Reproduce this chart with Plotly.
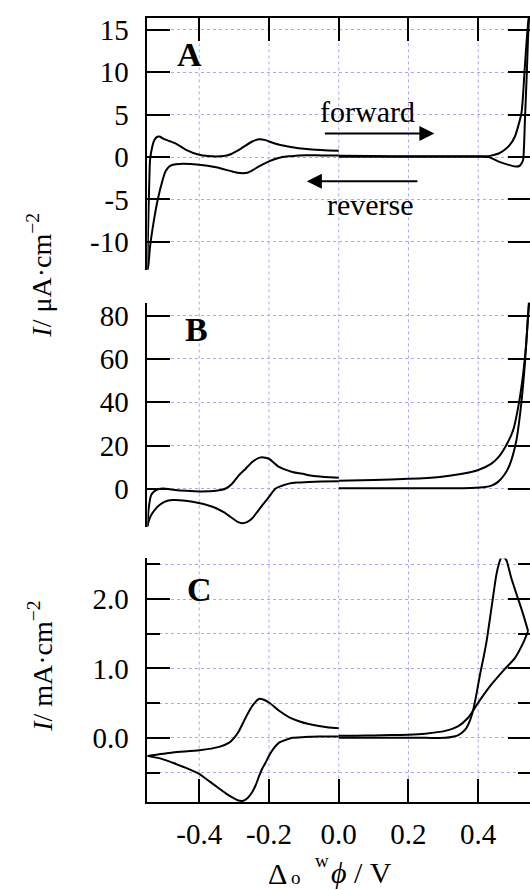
import plotly.graph_objects as go

# ---------------- data ----------------
X_TICKS = [-0.4, -0.2, 0.0, 0.2, 0.4]
X_TICKTEXT = ["-0.4", "-0.2", "0.0", "0.2", "0.4"]

A_TICKS = [-10, -5, 0, 5, 10, 15]
A_TICKTEXT = ["-10", "-5", "0", "5", "10", "15"]
B_TICKS = [0, 20, 40, 60, 80]
B_TICKTEXT = ["0", "20", "40", "60", "80"]
C_TICKS = [0.0, 1.0, 2.0]
C_TICKTEXT = ["0.0", "1.0", "2.0"]

# Panel A (µA cm-2)
A_left_up_V = [-0.549, -0.547, -0.544, -0.541, -0.535, -0.529, -0.52, -0.512, -0.505, -0.486, -0.467,
               -0.438, -0.4, -0.375, -0.352, -0.33, -0.314, -0.286, -0.248, -0.229, -0.21, -0.2,
               -0.17, -0.133, -0.1, -0.067, -0.03, 0.0]
A_left_up_I = [-13.3, -9.0, -4.0, -0.3, 1.2, 2.0, 2.4, 2.4, 2.2, 1.9, 1.6,
               0.86, 0.27, 0.12, 0.08, 0.12, 0.27, 0.86, 1.84, 2.1, 2.0, 1.84,
               1.45, 1.17, 0.98, 0.86, 0.78, 0.74]
A_left_lo_V = [0.0, -0.05, -0.114, -0.14, -0.162, -0.18, -0.2, -0.215, -0.229, -0.245, -0.262,
               -0.276, -0.29, -0.305, -0.352, -0.4, -0.457, -0.475, -0.486, -0.497, -0.505,
               -0.519, -0.531, -0.541, -0.546, -0.549]
A_left_lo_I = [0.2, 0.2, 0.2, 0.1, 0.0, -0.2, -0.5, -0.8, -1.1, -1.5, -1.85,
               -1.9, -1.85, -1.7, -1.2, -0.9, -0.8, -0.9, -1.1, -1.7, -2.7,
               -5.0, -7.7, -10.5, -12.8, -13.3]
A_right_fwd_V = [0.0, 0.1, 0.2, 0.3, 0.4, 0.43, 0.457, 0.49, 0.506, 0.518, 0.525, 0.529,
                 0.534, 0.539, 0.543, 0.547]
A_right_fwd_I = [0.05, 0.05, 0.05, 0.05, 0.05, 0.0, -0.5, -0.95, -1.1, -1.05, -0.7, -0.3,
                 4.4, 9.5, 14.2, 17.5]
A_right_rev_V = [0.545, 0.541, 0.533, 0.524, 0.505, 0.49, 0.476, 0.46, 0.44, 0.429, 0.4,
                 0.3, 0.2, 0.1, 0.0]
A_right_rev_I = [16.5, 14.9, 10.2, 5.2, 2.4, 1.4, 0.86, 0.45, 0.2, 0.1, 0.1,
                 0.1, 0.1, 0.12, 0.15]

# Panel B (µA cm-2)
B_left_up_V = [-0.549, -0.545, -0.538, -0.524, -0.505, -0.47, -0.438, -0.4, -0.352, -0.324,
               -0.305, -0.286, -0.267, -0.248, -0.229, -0.215, -0.2, -0.171, -0.133, -0.1,
               -0.076, -0.04, 0.0]
B_left_up_I = [-17.5, -9.0, -2.9, -0.6, 0.15, -0.5, -0.9, -1.2, -0.9, 0.15,
               2.5, 6.3, 9.3, 12.4, 14.3, 14.5, 13.9, 10.1, 7.8, 6.8,
               6.0, 5.5, 5.1]
B_left_lo_V = [0.0, -0.05, -0.086, -0.12, -0.143, -0.165, -0.181, -0.2, -0.219, -0.233,
               -0.248, -0.262, -0.276, -0.29, -0.305, -0.33, -0.362, -0.419, -0.476, -0.5,
               -0.514, -0.528, -0.538, -0.545, -0.549]
B_left_lo_I = [3.5, 3.4, 3.2, 2.9, 2.4, 1.3, 0.15, -3.7, -7.5, -10.5,
               -13.6, -15.3, -15.9, -15.3, -13.6, -10.8, -8.3, -6.0, -5.2, -6.0,
               -7.5, -9.8, -12.1, -15.0, -17.5]
B_right_a_V = [0.0, 0.1, 0.2, 0.29, 0.35, 0.4, 0.437, 0.46, 0.48, 0.5, 0.515, 0.528, 0.537,
               0.543, 0.546]
B_right_a_I = [3.7, 4.1, 4.6, 5.5, 6.8, 8.7, 11.5, 15.0, 20.0, 27.0, 38.0, 52.0, 66.0,
               80.0, 88.0]
B_right_b_V = [0.0, 0.1, 0.2, 0.3, 0.38, 0.42, 0.44, 0.457, 0.475, 0.49, 0.509, 0.523, 0.534,
               0.543, 0.547]
B_right_b_I = [0.3, 0.3, 0.3, 0.3, 0.4, 0.8, 1.6, 3.2, 6.5, 11.0, 22.0, 38.6, 58.0,
               80.0, 88.0]

# Panel C (mA cm-2)
C_left_up_V = [-0.549, -0.476, -0.4, -0.343, -0.314, -0.3, -0.286, -0.267, -0.248, -0.229,
               -0.215, -0.2, -0.171, -0.143, -0.114, -0.086, -0.057, -0.029, 0.0]
C_left_up_I = [-0.26, -0.21, -0.18, -0.13, -0.07, 0.0, 0.1, 0.29, 0.46, 0.56,
               0.55, 0.51, 0.39, 0.3, 0.24, 0.2, 0.17, 0.15, 0.14]
C_left_lo_V = [0.0, -0.04, -0.076, -0.105, -0.133, -0.152, -0.171, -0.186, -0.2, -0.21, -0.22,
               -0.229, -0.238, -0.248, -0.262, -0.276, -0.29, -0.305, -0.324, -0.343, -0.381,
               -0.4, -0.44, -0.476, -0.51, -0.549]
C_left_lo_I = [0.02, 0.02, 0.015, 0.01, 0.0, -0.03, -0.07, -0.15, -0.26, -0.36, -0.45,
               -0.56, -0.68, -0.78, -0.87, -0.91, -0.9, -0.86, -0.8, -0.73, -0.59,
               -0.52, -0.43, -0.36, -0.3, -0.26]
C_right_fwd_V = [0.0, 0.15, 0.25, 0.305, 0.33, 0.343, 0.355, 0.367, 0.377, 0.385, 0.395, 0.405,
                 0.415, 0.424, 0.438, 0.452, 0.46, 0.467, 0.474, 0.481, 0.495, 0.514, 0.529, 0.543]
C_right_fwd_I = [0.0, 0.0, 0.0, 0.0, 0.02, 0.04, 0.08, 0.15, 0.26, 0.39, 0.63, 0.91,
                 1.15, 1.39, 1.87, 2.35, 2.52, 2.61, 2.6, 2.56, 2.3, 2.01, 1.78, 1.54]
C_right_rev_V = [0.543, 0.529, 0.505, 0.476, 0.438, 0.41, 0.395, 0.385, 0.371, 0.343, 0.305,
                 0.248, 0.2, 0.15, 0.1, 0.05, 0.0]
C_right_rev_I = [1.54, 1.37, 1.15, 0.99, 0.77, 0.58, 0.47, 0.39, 0.29, 0.17, 0.1,
                 0.06, 0.045, 0.04, 0.035, 0.03, 0.03]

# ---------------- layout geometry (pixels of the 530x890 page) ----------------
# the figure is 3 px wider than the window so the right frame line falls just outside,
# as in the reference (only the inward right-hand ticks are visible)
W, H = 533, 890
def px(x):
    return x / W
def py(y):
    return 1 - y / H

X_RANGE = [-0.5486, 0.5514]
XDOM = [px(148), 1.0]
A_DOM = [py(267), py(14)]
B_DOM = [py(525), py(300)]
C_DOM = [py(802), py(557)]

FONT = "Liberation Serif"
TICKFONT = dict(family=FONT, size=29, color="black")
GRID = "#a6a6ff"

fig = go.Figure()
line = dict(color="black", width=2, shape="spline", smoothing=0.6)
segs = [
    (A_left_up_V, A_left_up_I, "x", "y"), (A_left_lo_V, A_left_lo_I, "x", "y"),
    (A_right_fwd_V, A_right_fwd_I, "x", "y"), (A_right_rev_V, A_right_rev_I, "x", "y"),
    (B_left_up_V, B_left_up_I, "x2", "y2"), (B_left_lo_V, B_left_lo_I, "x2", "y2"),
    (B_right_a_V, B_right_a_I, "x2", "y2"), (B_right_b_V, B_right_b_I, "x2", "y2"),
    (C_left_up_V, C_left_up_I, "x3", "y3"), (C_left_lo_V, C_left_lo_I, "x3", "y3"),
    (C_right_fwd_V, C_right_fwd_I, "x3", "y3"), (C_right_rev_V, C_right_rev_I, "x3", "y3"),
]
for xs, ys, xa, ya in segs:
    fig.add_trace(go.Scatter(x=xs, y=ys, mode="lines", line=line, xaxis=xa, yaxis=ya,
                             showlegend=False, hoverinfo="skip"))

common_y = dict(showline=True, linewidth=2, linecolor="black", mirror="ticks",
                ticks="inside", ticklen=23, tickwidth=2, tickcolor="black",
                showgrid=True, gridcolor=GRID, griddash="dot", gridwidth=1,
                zeroline=False, tickfont=TICKFONT, ticklabelstandoff=11)

fig.update_layout(
    width=W, height=H, margin=dict(l=0, r=0, t=0, b=0),
    paper_bgcolor="white", plot_bgcolor="rgba(0,0,0,0)",
    xaxis=dict(domain=XDOM, range=X_RANGE, anchor="y", side="top", showline=True,
               linewidth=2, linecolor="black", ticks="inside", ticklen=23, tickwidth=2,
               tickcolor="black", tickvals=X_TICKS, showticklabels=False,
               showgrid=False, zeroline=False),
    yaxis=dict(domain=A_DOM, range=[-13.29, 16.41], anchor="x",
               tickvals=A_TICKS, ticktext=A_TICKTEXT, **common_y),
    xaxis2=dict(domain=XDOM, range=X_RANGE, anchor="y2", showline=False, ticks="",
                showticklabels=False, showgrid=False, zeroline=False),
    yaxis2=dict(domain=B_DOM, range=[-17.47, 86.0], anchor="x2",
                tickvals=B_TICKS, ticktext=B_TICKTEXT, **common_y),
    xaxis3=dict(domain=XDOM, range=X_RANGE, anchor="y3", side="bottom", showline=True,
                linewidth=2, linecolor="black", ticks="inside", ticklen=23, tickwidth=2,
                tickcolor="black", tickvals=X_TICKS, ticktext=X_TICKTEXT,
                tickfont=TICKFONT, ticklabelstandoff=5, showgrid=False, zeroline=False),
    yaxis3=dict(domain=C_DOM, range=[-0.931, 2.586], anchor="x3",
                tickvals=C_TICKS, ticktext=C_TICKTEXT,
                minor=dict(tickvals=[-0.5, 0.5, 1.5, 2.5], ticks="inside", ticklen=13,
                           tickwidth=2, tickcolor="black", showgrid=True,
                           gridcolor=GRID, griddash="dot", gridwidth=1),
                **common_y),
)

# vertical dotted grid lines spanning all three panels
for xv in X_TICKS:
    fig.add_shape(type="line", xref="x3", yref="paper", x0=xv, x1=xv,
                  y0=C_DOM[0], y1=A_DOM[1], line=dict(color=GRID, width=1, dash="dot"),
                  layer="below")

ann = []
def text_at(txt, x, y, size, **kw):
    d = dict(text=txt, x=px(x), y=py(y), xref="paper", yref="paper", showarrow=False,
             font=dict(family=FONT, size=size, color="black"),
             xanchor="center", yanchor="middle")
    d.update(kw)
    ann.append(d)

# panel letters
for letter, (lx, ly) in zip(["A", "B", "C"], [(190, 51), (197, 327), (200, 588)]):
    text_at("<b>%s</b>" % letter, lx, ly, 34)
# y titles
text_at("<i>I</i>/ μA·cm<sup>−2</sup>", 40, 272, 28, textangle=-90)
text_at("<i>I</i>/ mA·cm<sup>−2</sup>", 40, 665, 28, textangle=-90)
# x title: Δ with subscript o and superscript w, then φ / V
text_at("Δ", 279, 873, 30)
text_at("o", 297, 890, 19, yanchor="bottom")
text_at("w", 323, 860, 19)
text_at("<i>ϕ</i> / V", 363, 872, 30)
# forward / reverse labels and arrows
text_at("forward", 369, 108, 30)
text_at("reverse", 372, 201, 30)
ann.append(dict(text="", x=px(436), y=py(130), xref="paper", yref="paper",
                ax=-111, ay=0, showarrow=True, arrowhead=2, arrowsize=1.5,
                arrowwidth=2, arrowcolor="black"))
ann.append(dict(text="", x=px(308), y=py(178), xref="paper", yref="paper",
                ax=112, ay=0, showarrow=True, arrowhead=2, arrowsize=1.5,
                arrowwidth=2, arrowcolor="black"))
fig.update_layout(annotations=ann)

# remove the default 8 px page margin so the figure fills the window exactly
fig.write_html("out.html", config={"displayModeBar": False},
               post_script="document.body.style.margin='0';document.body.style.overflow='hidden';")
